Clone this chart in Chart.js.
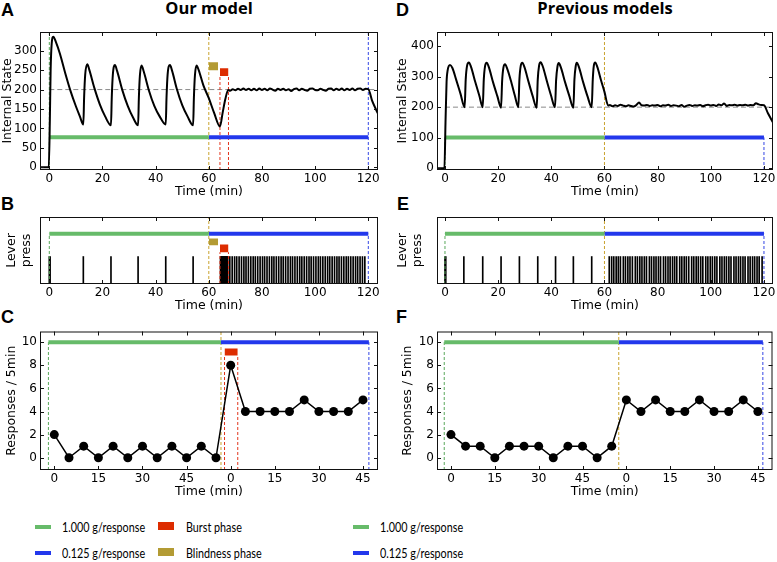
<!DOCTYPE html>
<html>
<head>
<meta charset="utf-8">
<script src="https://cdn.jsdelivr.net/npm/chart.js@4.4.1/dist/chart.umd.min.js"></script>
<style>
  html, body { margin: 0; padding: 0; background: #fff; width: 777px; height: 562px; overflow: hidden; position: relative; }
  canvas { position: absolute; }
  .t { position: absolute; white-space: nowrap; color: #000; }
  .letter { font: bold 18px 'Liberation Sans', Arial, sans-serif; line-height: 18px; }
  .title { font: bold 16.5px 'Open Sans', sans-serif; line-height: 18px; transform: translateX(-50%); }
  .lg { font: 14px Lato, sans-serif; line-height: 16px; transform-origin: left center; transform: scaleX(0.77); }
  .sw { position: absolute; }
</style>
</head>
<body>
<div class="t letter" style="left:1px;top:1px">A</div>
<div class="t letter" style="left:1px;top:195px">B</div>
<div class="t letter" style="left:1px;top:308px">C</div>
<div class="t letter" style="left:396px;top:1px">D</div>
<div class="t letter" style="left:397px;top:195px">E</div>
<div class="t letter" style="left:396px;top:308px">F</div>
<div class="t title" style="left:209px;top:-1px">Our model</div>
<div class="t title" style="left:605px;top:-1px">Previous models</div>

<canvas id="chartA" width="386" height="172" style="left:0;top:28px"></canvas>
<canvas id="chartB" width="386" height="101" style="left:0;top:213px"></canvas>
<canvas id="chartC" width="386" height="173" style="left:0;top:327px"></canvas>
<canvas id="chartD" width="387" height="172" style="left:390px;top:28px"></canvas>
<canvas id="chartE" width="387" height="101" style="left:390px;top:213px"></canvas>
<canvas id="chartF" width="387" height="173" style="left:390px;top:327px"></canvas>

<div class="sw" style="left:35px;top:525px;width:16px;height:4px;background:#67bb6a"></div>
<div class="t lg" style="left:62px;top:519px">1.000 g/response</div>
<div class="sw" style="left:35px;top:551px;width:16px;height:4px;background:#2338ec"></div>
<div class="t lg" style="left:62px;top:545px">0.125 g/response</div>
<div class="sw" style="left:158px;top:522px;width:16px;height:8px;background:#dd2c00"></div>
<div class="t lg" style="left:186px;top:519px">Burst phase</div>
<div class="sw" style="left:158px;top:548px;width:16px;height:8px;background:#b39b34"></div>
<div class="t lg" style="left:186px;top:545px">Blindness phase</div>
<div class="sw" style="left:353px;top:525px;width:16px;height:4px;background:#67bb6a"></div>
<div class="t lg" style="left:380px;top:519px">1.000 g/response</div>
<div class="sw" style="left:353px;top:551px;width:16px;height:4px;background:#2338ec"></div>
<div class="t lg" style="left:380px;top:545px">0.125 g/response</div>

<script>
'use strict';

// ---- data ----
const timeTicks = [0, 20, 40, 60, 80, 100, 120];
const binTicks = [0, 15, 30, 45, 60, 75, 90, 105];
const binTickLabels = ['0', '15', '30', '45', '0', '15', '30', '45'];
const stateTicksOurs = [0, 50, 100, 150, 200, 250, 300];
const stateTicksOld = [0, 100, 200, 300, 400];
const respTicks = [0, 2, 4, 6, 8, 10];

// internal state, our model: [time, value]
const stateOurs = [
  [-3.5, 0], [-0.2, 0], [0.2, 120], [0.5, 250], [0.9, 318], [1.5, 336], [2.5, 322], [4, 292], [6, 242], [8, 196], [10, 157], [11.5, 131], [12.8, 110],
  [13.1, 180], [13.5, 238], [14.3, 265], [15, 252], [17, 203], [19, 162], [21, 131], [23.2, 108],
  [23.5, 180], [23.9, 238], [24.7, 263], [25.5, 248], [27.5, 198], [29.5, 158], [31.5, 128], [33.4, 108],
  [33.7, 180], [34.1, 238], [34.7, 262], [35.5, 247], [37.5, 197], [39.5, 158], [41.5, 131], [43.8, 110],
  [44.1, 180], [44.5, 238], [45.4, 263], [46.2, 248], [48, 201], [50, 160], [52, 131], [54.1, 108],
  [54.4, 180], [54.8, 238], [55.4, 262], [56.2, 250], [58, 210], [60, 178], [62, 140], [64.2, 105],
  [65.2, 140], [66.2, 175], [67.3, 199], [68, 197], [69, 201], [70, 198], [71, 202], [72, 199], [73, 203],
  [74, 199], [75, 202], [76, 198], [77, 202], [78, 198], [79, 203], [80, 199], [81, 202], [82, 198], [83, 203],
  [84, 200], [85, 197], [86, 202], [87, 199], [88, 202], [89, 198], [90, 201], [91, 196], [92, 201], [93, 203],
  [94, 198], [95, 202], [96, 199], [97, 197], [98, 202], [99, 203], [100, 199], [101, 198], [102, 202], [103, 199],
  [104, 197], [105, 202], [106, 203], [107, 198], [108, 202], [109, 199], [110, 203], [111, 198], [112, 202],
  [113, 199], [114, 203], [115, 198], [116, 202], [117, 203], [118, 199], [119, 202], [120, 201], [121.5, 170], [123.65, 138]
];

// internal state, previous models
const stateOld = [
  [-3, 0], [-0.2, 0], [0.2, 150], [0.6, 282], [1.0, 320], [1.9, 338], [2.8, 328], [4.2, 290], [5.8, 245], [7.4, 200],
  [7.8, 290], [8.3, 335], [9.0, 346], [9.8, 332], [11.4, 282], [12.9, 238], [14.2, 200],
  [14.6, 290], [15.1, 335], [15.7, 345], [16.5, 331], [18.1, 281], [19.7, 236], [21.1, 198],
  [21.5, 285], [22.0, 330], [22.6, 340], [23.4, 326], [25.0, 280], [26.3, 237], [27.6, 200],
  [28.0, 290], [28.5, 335], [29.1, 345], [29.9, 331], [31.5, 281], [33.0, 236], [34.5, 198],
  [34.9, 290], [35.4, 336], [36.0, 347], [36.8, 333], [38.4, 283], [39.9, 238], [41.4, 200],
  [41.8, 287], [42.3, 332], [42.8, 344], [43.6, 330], [45.2, 281], [46.8, 236], [48.3, 198],
  [48.7, 290], [49.2, 335], [49.6, 345], [50.4, 331], [52.0, 281], [53.6, 236], [55.2, 200],
  [55.6, 290], [56.0, 336], [56.5, 346], [57.3, 332], [58.7, 288], [60, 250], [61.4, 205],
  [62, 207], [63, 203], [64, 206], [65, 204], [66, 208], [67, 205], [68, 203], [69, 206], [70, 204], [71, 202],
  [72, 207], [73, 215], [74, 206], [75, 205], [76, 207], [77, 204], [78, 206], [79, 205], [80, 207], [81, 203],
  [82, 206], [83, 205], [84, 208], [85, 204], [86, 206], [87, 205], [88, 203], [89, 207], [90, 201], [91, 205],
  [92, 207], [93, 204], [94, 206], [95, 205], [96, 207], [97, 203], [98, 206], [99, 208], [100, 205], [101, 207],
  [102, 204], [103, 209], [104, 206], [105, 212], [106, 204], [107, 207], [108, 206], [109, 208], [110, 205],
  [111, 207], [112, 206], [113, 208], [114, 205], [115, 207], [116, 206], [117, 213], [118, 209], [119, 207],
  [120, 206], [121.5, 180], [123.4, 150]
];

// lever press times (min)
const pressOurs = [0, 0.3, 12.8, 23.2, 33.4, 43.8, 54.1,
  64.4, 64.55, 64.7, 64.85, 65.0, 65.15, 65.3, 65.45, 65.6, 65.75, 65.9, 66.05, 66.2, 66.35, 66.5, 66.65, 66.8, 66.95, 67.1,
  67.9, 68.8, 69.7, 70.5, 71.4, 72.3, 73.2, 74.0, 74.9, 75.8, 76.7, 77.5, 78.4, 79.3, 80.2, 81.0, 81.9, 82.8,
  83.7, 84.5, 85.4, 86.3, 87.2, 88.0, 88.9, 89.8, 90.7, 91.5, 92.4, 93.3, 94.2, 95.0, 95.9, 96.8, 97.7, 98.5,
  99.4, 100.3, 101.2, 102.0, 102.9, 103.8, 104.7, 105.5, 106.4, 107.3, 108.2, 109.0, 109.9, 110.8, 111.7,
  112.5, 113.4, 114.3, 115.2, 116.0, 116.9, 117.8, 118.7];
const pressOld = [0, 0.3, 7.1, 14.2, 21.1, 28.0, 34.9, 41.6, 48.3, 55.2,
  61.8, 62.7, 63.5, 64.4, 65.2, 66.0, 67.1, 67.9, 68.8, 69.6, 70.5, 71.6, 72.4, 73.3, 74.1, 75.0, 75.8,
  76.9, 77.7, 78.6, 79.4, 80.3, 81.1, 82.2, 83.0, 83.9, 84.7, 85.6, 86.4, 87.2, 88.3, 89.1, 90.0, 90.8,
  91.7, 92.8, 93.6, 94.5, 95.3, 96.2, 97.0, 98.1, 98.9, 99.8, 100.6, 101.5, 102.3, 103.4, 104.2, 105.1,
  105.9, 106.8, 107.6, 108.7, 109.5, 110.4, 111.2, 112.1, 112.9, 114.0, 114.8, 115.7, 116.5, 117.4, 118.2, 119.3];

// responses per 5-min bin
const bins = [0, 5, 10, 15, 20, 25, 30, 35, 40, 45, 50, 55, 60, 65, 70, 75, 80, 85, 90, 95, 100, 105];
const respOurs = [2, 0, 1, 0, 1, 0, 1, 0, 1, 0, 1, 0, 8, 4, 4, 4, 4, 5, 4, 4, 4, 5];
const respOld = [2, 1, 1, 0, 1, 1, 1, 0, 1, 1, 0, 1, 5, 4, 5, 4, 4, 5, 4, 4, 5, 4];

// phase markers: [start of 1.000 g, switch to 0.125 g, end]
const phasesTime = [0, 60, 120];
const phasesBinOurs = [-2, 56.7, 107];
const phasesBinOld = [-2.3, 57.4, 106.7];
const blindTime = [60, 63.5];
const burstTime = [64.2, 67.4];
const burstBin = [57.9, 62.4];
const setpoint = 200;

const GREEN = '#67bb6a', BLUE = '#2338ec', RED = '#dd2c00', OLIVE = '#b39b34';
const GREEN_D = '#5aa85c', YELLOW_D = '#c9a32e', RED_D = '#e2341c', BLUE_D = '#3446e4';
const tickFont = { family: 'DejaVu Sans', size: 12 };
const titleFont = { family: 'DejaVu Sans', size: 12.5 };

function seg(xs, ys, color, width, dash) {
  return {
    data: xs.map((x, i) => ({ x: x, y: ys[i] })),
    borderColor: color, borderWidth: width, borderDash: dash || [],
    pointRadius: 0, fill: false, tension: 0
  };
}

function block(xs, ys, color) {
  return [{
    data: xs.map(x => ({ x: x, y: ys[1] })),
    borderColor: 'rgba(0,0,0,0)', borderWidth: 0, backgroundColor: color,
    pointRadius: 0, fill: '+1', tension: 0
  }, {
    data: xs.map(x => ({ x: x, y: ys[0] })),
    borderColor: 'rgba(0,0,0,0)', borderWidth: 0, pointRadius: 0, fill: false, tension: 0
  }];
}

function curve(pairs) {
  return {
    data: pairs.map(p => ({ x: p[0], y: p[1] })),
    borderColor: '#000', borderWidth: 2, pointRadius: 0, fill: false,
    tension: 0.4, cubicInterpolationMode: 'monotone'
  };
}

function presses(times, h) {
  return {
    type: 'bar',
    data: times.map(t => ({ x: t, y: h })),
    backgroundColor: '#000', barThickness: 1, grouped: false, borderWidth: 0
  };
}

function counts(vals) {
  return {
    data: bins.map((b, i) => ({ x: b, y: vals[i] })),
    borderColor: '#000', borderWidth: 1.5, pointRadius: 4.5, pointBackgroundColor: '#000',
    pointBorderWidth: 0, fill: false, tension: 0
  };
}

function schedule(ph, level) {
  return [
    seg([ph[0], ph[1]], [level, level], GREEN, 4),
    seg([ph[1], ph[2]], [level, level], BLUE, 4)
  ];
}

// box with inward ticks on all four sides, matplotlib style
const frame = {
  id: 'frame',
  afterDatasetsDraw(chart) {
    const { ctx, chartArea: a, scales: { x, y } } = chart;
    ctx.save();
    ctx.strokeStyle = '#111';
    ctx.lineWidth = 1;
    ctx.setLineDash([]);
    ctx.strokeRect(a.left + 0.5, a.top + 0.5, a.right - a.left - 1, a.bottom - a.top - 1);
    ctx.beginPath();
    x.ticks.forEach(t => {
      const p = Math.round(x.getPixelForValue(t.value)) + 0.5;
      ctx.moveTo(p, a.bottom); ctx.lineTo(p, a.bottom - 4);
      ctx.moveTo(p, a.top); ctx.lineTo(p, a.top + 4);
    });
    y.ticks.forEach(t => {
      const p = Math.round(y.getPixelForValue(t.value)) + 0.5;
      ctx.moveTo(a.left, p); ctx.lineTo(a.left + 4, p);
      ctx.moveTo(a.right, p); ctx.lineTo(a.right - 4, p);
    });
    ctx.stroke();
    ctx.restore();
  }
};

function noPad(s) {
  s.paddingTop = 0; s.paddingBottom = 0; s.paddingLeft = 0; s.paddingRight = 0;
}

function panel(id, o) {
  return new Chart(document.getElementById(id), {
    type: 'line',
    data: { datasets: o.datasets },
    options: {
      responsive: false, animation: false, devicePixelRatio: 1,
      layout: { padding: { top: 4, right: o.right, left: 0, bottom: 0 } },
      plugins: { legend: { display: false }, tooltip: { enabled: false } },
      scales: {
        x: {
          type: 'linear', min: o.xr[0], max: o.xr[1], offset: false,
          grid: { display: false, drawTicks: false }, border: { display: false },
          afterBuildTicks: s => { s.ticks = o.xt.map(v => ({ value: v })); },
          ticks: {
            font: tickFont, color: '#000', padding: 2, maxRotation: 0, autoSkip: false,
            callback: (v, i) => (o.xl ? o.xl[i] : v)
          },
          title: { display: true, text: 'Time (min)', font: titleFont, color: '#000', padding: { top: 0, bottom: 1 } },
          afterFit: s => { s.height = 30; noPad(s); }
        },
        y: {
          type: 'linear', min: o.yr[0], max: o.yr[1],
          grid: { display: false, drawTicks: false }, border: { display: false },
          afterBuildTicks: s => { s.ticks = o.yt.map(v => ({ value: v })); },
          ticks: { display: o.yt.length > 0, font: tickFont, color: '#000', padding: 3 },
          title: { display: true, text: o.ytitle, font: titleFont, color: '#000', padding: { top: o.tpad, bottom: 0 } },
          afterFit: s => { s.width = o.yw; noPad(s); }
        }
      }
    },
    plugins: [frame]
  });
}

document.addEventListener('DOMContentLoaded', function () {
  // A
  const yA = [-6.95, 348.1];
  panel('chartA', {
    xr: [-3.5, 123.65], yr: yA, xt: timeTicks, yt: stateTicksOurs, yw: 40, right: 8, tpad: 0,
    ytitle: 'Internal State',
    datasets: [
      curve(stateOurs),
      ...block(blindTime, [250, 270], OLIVE),
      ...block(burstTime, [235, 255], RED),
      ...schedule(phasesTime, 77),
      seg([phasesTime[0], phasesTime[0]], yA, GREEN_D, 1, [3, 2]),
      seg([phasesTime[1], phasesTime[1]], yA, YELLOW_D, 1, [3, 2]),
      seg([phasesTime[2], phasesTime[2]], yA, BLUE_D, 1, [3, 2]),
      seg([burstTime[0], burstTime[0]], [yA[0], 235], RED_D, 1, [3, 2]),
      seg([burstTime[1], burstTime[1]], [yA[0], 235], RED_D, 1, [3, 2]),
      seg([0, 123.65], [setpoint, setpoint], '#8a8a8a', 1, [5, 3])
    ]
  });

  // B
  const yB = [0, 1];
  panel('chartB', {
    xr: [-3.5, 123.65], yr: yB, xt: timeTicks, yt: [], yw: 40, right: 8, tpad: 4,
    ytitle: ['Lever', 'press'],
    datasets: [
      ...block(blindTime, [0.58, 0.68], OLIVE),
      ...block(burstTime, [0.475, 0.59], RED),
      ...schedule(phasesTime, 0.75),
      seg([phasesTime[0], phasesTime[0]], [0, 0.75], GREEN_D, 1, [3, 2]),
      seg([phasesTime[1], phasesTime[1]], yB, YELLOW_D, 1, [3, 2]),
      seg([phasesTime[2], phasesTime[2]], [0, 0.75], BLUE_D, 1, [3, 2]),
      seg([burstTime[0], burstTime[0]], [0, 0.475], RED_D, 1, [3, 2]),
      seg([burstTime[1], burstTime[1]], [0, 0.475], RED_D, 1, [3, 2]),
      presses(pressOurs, 0.41)
    ]
  });

  // C
  const yC = [-1.06, 10.92];
  panel('chartC', {
    xr: [-4.86, 110.1], yr: yC, xt: binTicks, xl: binTickLabels, yt: respTicks, yw: 40, right: 8, tpad: 4.5,
    ytitle: 'Responses / 5min',
    datasets: [
      counts(respOurs),
      ...block(burstBin, [8.85, 9.45], RED),
      ...schedule(phasesBinOurs, 10),
      seg([phasesBinOurs[0], phasesBinOurs[0]], [yC[0], 10], GREEN_D, 1, [3, 2]),
      seg([phasesBinOurs[1], phasesBinOurs[1]], yC, YELLOW_D, 1, [3, 2]),
      seg([phasesBinOurs[2], phasesBinOurs[2]], [yC[0], 10], BLUE_D, 1, [3, 2]),
      seg([burstBin[0], burstBin[0]], [yC[0], 8.85], RED_D, 1, [3, 2]),
      seg([burstBin[1], burstBin[1]], [yC[0], 8.85], RED_D, 1, [3, 2])
    ]
  });

  // D
  const yD = [-5.56, 445.8];
  panel('chartD', {
    xr: [-3.0, 123.4], yr: yD, xt: timeTicks, yt: stateTicksOld, yw: 47, right: 4, tpad: 5.5,
    ytitle: 'Internal State',
    datasets: [
      curve(stateOld),
      ...schedule(phasesTime, 101),
      seg([phasesTime[0], phasesTime[0]], [yD[0], 101], GREEN_D, 1, [3, 2]),
      seg([phasesTime[1], phasesTime[1]], yD, YELLOW_D, 1, [3, 2]),
      seg([phasesTime[2], phasesTime[2]], [yD[0], 101], BLUE_D, 1, [3, 2]),
      seg([0, 123.4], [setpoint, setpoint], '#8a8a8a', 1, [5, 3])
    ]
  });

  // E
  panel('chartE', {
    xr: [-3.0, 123.4], yr: yB, xt: timeTicks, yt: [], yw: 47, right: 4, tpad: 5.5,
    ytitle: ['Lever', 'press'],
    datasets: [
      ...schedule(phasesTime, 0.75),
      seg([phasesTime[0], phasesTime[0]], [0, 0.75], GREEN_D, 1, [3, 2]),
      seg([phasesTime[1], phasesTime[1]], yB, YELLOW_D, 1, [3, 2]),
      seg([phasesTime[2], phasesTime[2]], [0, 0.75], BLUE_D, 1, [3, 2]),
      presses(pressOld, 0.41)
    ]
  });

  // F
  panel('chartF', {
    xr: [-4.78, 110.0], yr: yC, xt: binTicks, xl: binTickLabels, yt: respTicks, yw: 47, right: 4, tpad: 10.5,
    ytitle: 'Responses / 5min',
    datasets: [
      counts(respOld),
      ...schedule(phasesBinOld, 10),
      seg([phasesBinOld[0], phasesBinOld[0]], [yC[0], 10], GREEN_D, 1, [3, 2]),
      seg([phasesBinOld[1], phasesBinOld[1]], yC, YELLOW_D, 1, [3, 2]),
      seg([phasesBinOld[2], phasesBinOld[2]], [yC[0], 10], BLUE_D, 1, [3, 2])
    ]
  });
});
</script>
</body>
</html>
